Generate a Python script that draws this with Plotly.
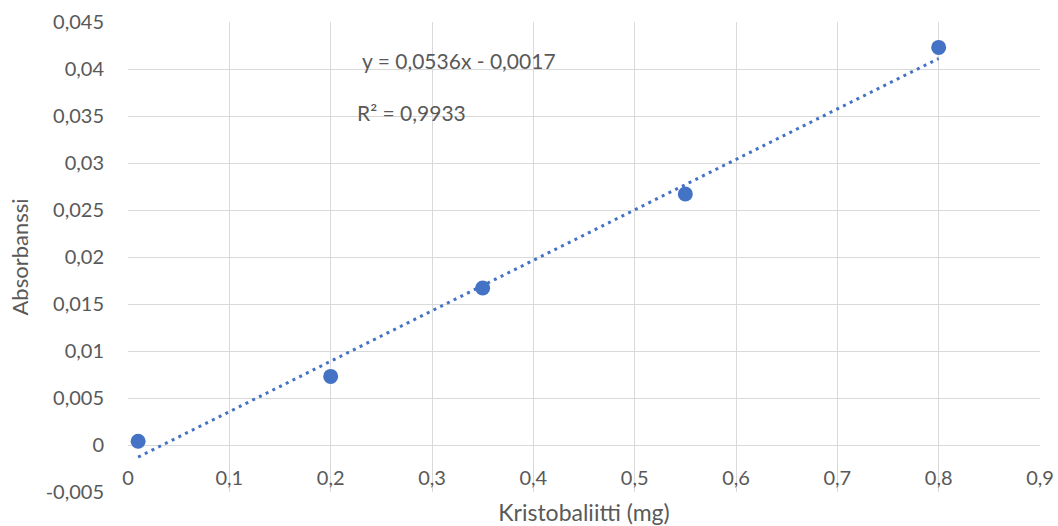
import numpy as np
import plotly.graph_objects as go

# Data
x_mg = [0.01, 0.2, 0.35, 0.55, 0.8]
absorbance = [0.0004, 0.0073, 0.0167, 0.0267, 0.0423]

x_ticks = [0, 0.1, 0.2, 0.3, 0.4, 0.5, 0.6, 0.7, 0.8, 0.9]
x_tick_labels = ["0", "0,1", "0,2", "0,3", "0,4", "0,5", "0,6", "0,7", "0,8", "0,9"]
y_ticks = [-0.005, 0, 0.005, 0.01, 0.015, 0.02, 0.025, 0.03, 0.035, 0.04, 0.045]
y_tick_labels = ["-0,005", "0", "0,005", "0,01", "0,015", "0,02", "0,025", "0,03", "0,035", "0,04", "0,045"]

eq_text = "y = 0,0536x - 0,0017"
r2_text = "R² = 0,9933"

# Linear trendline (least-squares fit, as the spreadsheet does)
slope, intercept = np.polyfit(x_mg, absorbance, 1)
trend_x = [min(x_mg), max(x_mg)]
trend_y = [slope * v + intercept for v in trend_x]

blue = "#4472C4"
txt = "#595959"
grid = "#D9D9D9"
font_family = "Lato, 'Open Sans', sans-serif"

fig = go.Figure()
fig.add_trace(go.Scatter(
    x=trend_x, y=trend_y, mode="lines",
    line=dict(color=blue, width=3, dash="3px,4.5px"),
    hoverinfo="skip", showlegend=False,
))
fig.add_trace(go.Scatter(
    x=x_mg, y=absorbance, mode="markers",
    marker=dict(color=blue, size=15),
    showlegend=False,
))

fig.add_annotation(x=0.229, y=0.0409, xref="x", yref="y", text=eq_text,
                   showarrow=False, xanchor="left", yanchor="middle",
                   font=dict(family=font_family, size=21, color=txt))
fig.add_annotation(x=0.224, y=0.0354, xref="x", yref="y", text=r2_text,
                   showarrow=False, xanchor="left", yanchor="middle",
                   font=dict(family=font_family, size=21, color=txt))

fig.update_layout(
    width=1058, height=526,
    margin=dict(l=128, r=18, t=22, b=34),
    paper_bgcolor="white", plot_bgcolor="white",
    font=dict(family=font_family, size=20, color=txt),
    xaxis=dict(
        range=[0, 0.9], tickvals=x_ticks, ticktext=x_tick_labels,
        showgrid=True, gridcolor=grid, gridwidth=1,
        zeroline=False, showline=False, ticks="",
        anchor="free", position=0.1, ticklabelstandoff=19,
        title=dict(text="Kristobaliitti (mg)", standoff=16,
                   font=dict(size=23, color=txt)),
        automargin=False,
    ),
    yaxis=dict(
        range=[-0.005, 0.045], tickvals=y_ticks, ticktext=y_tick_labels,
        showgrid=True, gridcolor=grid, gridwidth=1,
        zeroline=False, showline=False, ticks="",
        ticklabelstandoff=23,
        title=dict(text="Absorbanssi", standoff=10,
                   font=dict(size=22, color=txt)),
        automargin=False,
    ),
)

fig.write_html("out.html", config={"displayModeBar": False},
               post_script="document.body.style.margin='0';")
